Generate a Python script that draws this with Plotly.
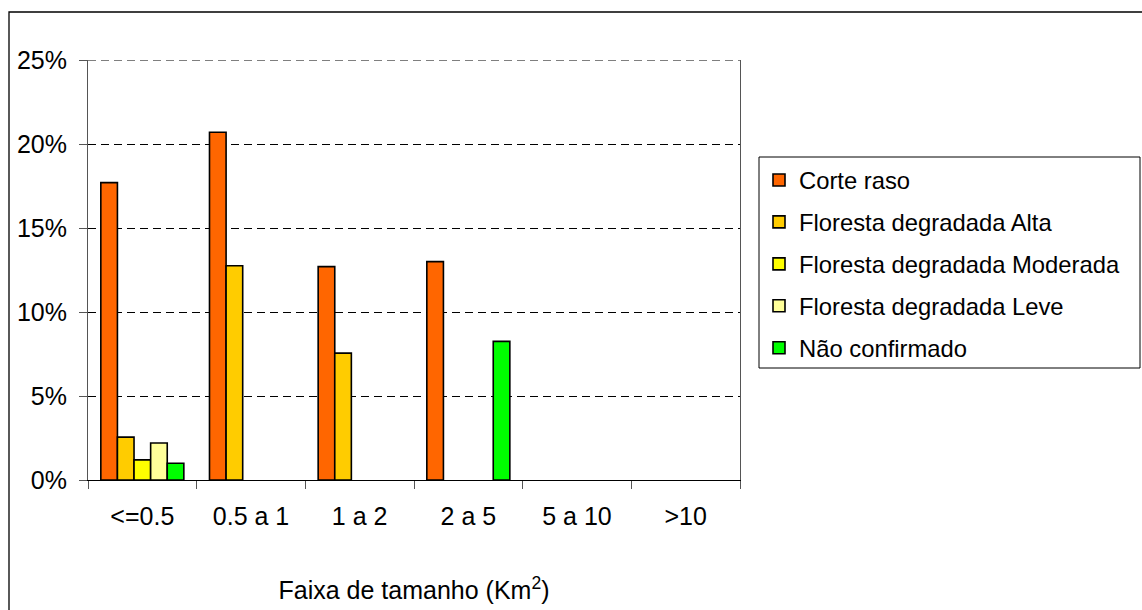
import plotly.graph_objects as go

categories = ["<=0.5", "0.5 a 1", "1 a 2", "2 a 5", "5 a 10", ">10"]
corte_raso = [17.7, 20.7, 12.7, 13.0, None, None]
floresta_alta = [2.55, 12.75, 7.55, None, None, None]
floresta_moderada = [1.2, None, None, None, None, None]
floresta_leve = [2.2, None, None, None, None, None]
nao_confirmado = [1.0, None, None, 8.25, None, None]

series_names = ["Corte raso", "Floresta degradada Alta", "Floresta degradada Moderada",
                "Floresta degradada Leve", "Não confirmado"]
series_values = [corte_raso, floresta_alta, floresta_moderada, floresta_leve, nao_confirmado]
series_colors = ["#FF6600", "#FFCC00", "#FFFF00", "#FFFF99", "#00FF00"]

FONT = "Arial, Liberation Sans, sans-serif"
AX_FS = 25
LEG_FS = 23.8

fig = go.Figure()
for i, (name, vals, col) in enumerate(zip(series_names, series_values, series_colors)):
    fig.add_trace(go.Bar(
        x=categories, y=vals, name=name, legendgroup=f"g{i}",
        marker=dict(color=col, line=dict(color="black", width=1.6)),
    ))

L, R, T, B = 88, 740, 60, 480
W, H = 1142, 610

def px_x(px):
    return (px - L) / (R - L)

def px_y(py):
    return (B - py) / (B - T)

fig.update_layout(
    width=W, height=H,
    margin=dict(l=L, r=W - R, t=T, b=H - B, autoexpand=False),
    paper_bgcolor="white", plot_bgcolor="white",
    font=dict(family=FONT, size=AX_FS, color="black"),
    barmode="group", bargap=0.236, bargroupgap=0,
    showlegend=True,
    legend=dict(
        x=px_x(759), y=px_y(158), xanchor="left", yanchor="top",
        bgcolor="rgba(0,0,0,0)", borderwidth=0,
        font=dict(family=FONT, size=LEG_FS, color="black"),
        traceorder="grouped", tracegroupgap=8,
    ),
    xaxis=dict(
        type="category", showgrid=False, zeroline=False,
        showline=True, linecolor="black", linewidth=1,
        ticks="outside", tickson="boundaries", ticklen=8, tickcolor="#555", tickwidth=1,
        ticklabelstandoff=14,
        tickfont=dict(family=FONT, size=AX_FS, color="black"),
        title=dict(text="Faixa de tamanho (Km<sup>2</sup>)", standoff=52,
                   font=dict(family=FONT, size=AX_FS, color="black")),
    ),
    yaxis=dict(
        range=[0, 25], dtick=5, tick0=0, ticksuffix="%",
        showgrid=True, gridcolor="black", gridwidth=1, griddash="8px,5px",
        zeroline=False,
        showline=True, linecolor="#555", linewidth=1, mirror=True,
        ticks="outside", ticklen=8, tickcolor="#555", tickwidth=1,
        ticklabelstandoff=7,
        tickfont=dict(family=FONT, size=AX_FS, color="black"),
    ),
    shapes=[
        dict(type="rect", xref="paper", yref="paper",
             x0=px_x(9), x1=px_x(1160), y0=px_y(640), y1=px_y(12),
             line=dict(color="black", width=1.3), fillcolor="rgba(0,0,0,0)", layer="below"),
        dict(type="rect", xref="paper", yref="paper",
             x0=px_x(759), x1=px_x(1140), y0=px_y(368), y1=px_y(157),
             line=dict(color="black", width=1), fillcolor="white", layer="below"),
        dict(type="line", xref="paper", yref="y", x0=0, x1=1, y0=25, y1=25,
             line=dict(color="black", width=1.2, dash="8px,5px")),
    ],
)

fig.write_html("out.html", config={"displayModeBar": False},
               post_script="document.body.style.margin='0';document.body.style.padding='0';")
